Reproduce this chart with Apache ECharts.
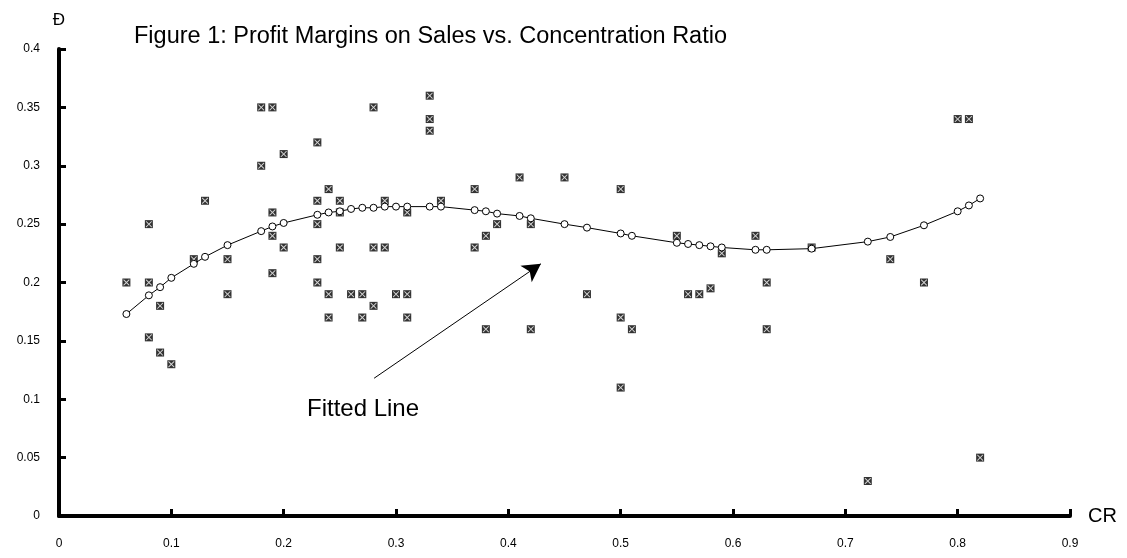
<!DOCTYPE html>
<html>
<head>
<meta charset="utf-8">
<script src="https://cdn.jsdelivr.net/npm/echarts@6/dist/echarts.min.js"></script>
<style>
html,body{margin:0;padding:0;background:#fff;}
#chart{width:1127px;height:558px;}
</style>
</head>
<body>
<div id="chart"></div>
<script>
// ---- data ----
const titleText = 'Figure 1: Profit Margins on Sales vs. Concentration Ratio';
const xTicks = [0, 0.1, 0.2, 0.3, 0.4, 0.5, 0.6, 0.7, 0.8, 0.9];
const yTicks = [0, 0.05, 0.1, 0.15, 0.2, 0.25, 0.3, 0.35, 0.4];

// observed points (CR, profit margin)
const obsX = [0.06,0.08,0.08,0.08,0.09,0.09,0.10,0.12,0.13,0.15,0.15,0.18,0.19,0.18,0.19,0.19,0.19,0.20,0.20,
  0.23,0.23,0.23,0.23,0.23,0.24,0.24,0.24,0.25,0.25,0.25,0.26,0.27,0.27,0.28,0.28,0.28,0.29,0.29,0.30,0.31,0.31,0.31,
  0.33,0.33,0.33,0.34,0.37,0.37,0.38,0.38,0.39,0.41,0.42,0.42,0.45,0.47,0.50,0.50,0.50,0.51,0.55,0.56,0.57,0.58,0.59,
  0.62,0.63,0.63,0.67,0.72,0.74,0.77,0.80,0.81,0.82];
const obsY = [0.20,0.20,0.25,0.153,0.18,0.14,0.13,0.22,0.27,0.22,0.19,0.35,0.35,0.30,0.26,0.24,0.208,0.31,0.23,
  0.32,0.27,0.25,0.22,0.20,0.28,0.19,0.17,0.27,0.26,0.23,0.19,0.19,0.17,0.35,0.23,0.18,0.27,0.23,0.19,0.26,0.19,0.17,
  0.36,0.34,0.33,0.27,0.28,0.23,0.24,0.16,0.25,0.29,0.25,0.16,0.29,0.19,0.28,0.17,0.11,0.16,0.24,0.19,0.19,0.195,0.225,
  0.24,0.20,0.16,0.23,0.03,0.22,0.20,0.34,0.34,0.05];

// fitted line
const fitX = [0.06,0.08,0.09,0.10,0.12,0.13,0.15,0.18,0.19,0.20,0.23,0.24,0.25,0.26,0.27,0.28,0.29,0.30,0.31,0.33,0.34,
  0.37,0.38,0.39,0.41,0.42,0.45,0.47,0.50,0.51,0.55,0.56,0.57,0.58,0.59,0.62,0.63,0.67,0.72,0.74,0.77,0.80,0.81,0.82];
const fitY = [0.173,0.189,0.196,0.204,0.216,0.222,0.232,0.244,0.248,0.251,0.258,0.260,0.261,0.263,0.264,0.264,0.265,0.265,0.265,0.265,0.265,
  0.262,0.261,0.259,0.257,0.255,0.250,0.247,0.242,0.240,0.234,0.233,0.232,0.231,0.230,0.228,0.228,0.229,0.235,0.239,0.249,0.261,0.266,0.272];

// annotation arrow (data coordinates)
const arrowFrom = [0.2805, 0.118];
const arrowTo = [0.429, 0.216];
const annotationText = 'Fitted Line';

// ---- chart ----
const obs = obsX.map((x, i) => [x, obsY[i]]);
const fit = fitX.map((x, i) => [x, fitY[i]]);
const FONT = '"Liberation Sans", Arial, sans-serif';
const xPath = 'path://M0,0 L1.1,0 L5,3.9 L8.9,0 L10,0 L10,1.1 L6.1,5 L10,8.9 L10,10 L8.9,10 L5,6.1 L1.1,10 L0,10 L0,8.9 L3.9,5 L0,1.1 Z';

const chart = echarts.init(document.getElementById('chart'), null, {renderer: 'canvas'});
chart.setOption({
  animation: false,
  backgroundColor: '#fff',
  title: {
    text: titleText,
    left: 129, top: 20,
    textStyle: {fontFamily: FONT, fontSize: 23.5, fontWeight: 'normal', color: '#000'}
  },
  grid: {left: 59, right: 57, top: 49, bottom: 42},
  xAxis: {
    type: 'value', min: 0, max: 0.9, interval: 0.1,
    name: 'CR', nameLocation: 'end', nameGap: 18,
    nameTextStyle: {fontFamily: FONT, fontSize: 20, color: '#000', verticalAlign: 'middle'},
    splitLine: {show: false},
    axisLine: {show: true, onZero: false, lineStyle: {color: '#000', width: 4}},
    axisTick: {show: true, inside: true, length: 7, lineStyle: {color: '#000', width: 3}},
    axisLabel: {margin: 22, fontFamily: FONT, fontSize: 12, color: '#000',
      formatter: v => String(Math.round(v * 10) / 10)}
  },
  yAxis: {
    type: 'value', min: 0, max: 0.4, interval: 0.05,
    name: 'Ð', nameLocation: 'end', nameGap: 20,
    nameTextStyle: {fontFamily: FONT, fontSize: 17, color: '#000', align: 'center'},
    splitLine: {show: false},
    axisLine: {show: true, onZero: false, lineStyle: {color: '#000', width: 4}},
    axisTick: {show: true, inside: true, length: 7, lineStyle: {color: '#000', width: 3}},
    axisLabel: {margin: 19, fontFamily: FONT, fontSize: 12, color: '#000',
      formatter: v => String(Math.round(v * 100) / 100)}
  },
  graphic: [{
    type: 'text', left: 307, top: 397, z: 10,
    style: {text: annotationText, fontFamily: FONT, fontSize: 24, fill: '#000'}
  }],
  series: [
    {
      type: 'scatter', data: obs, symbol: 'rect', symbolSize: 8,
      itemStyle: {color: '#000'}, z: 2, silent: true
    },
    {
      type: 'scatter', data: obs, symbol: xPath, symbolSize: 6,
      itemStyle: {color: '#fff'}, z: 3, silent: true
    },
    {
      type: 'line', data: fit, symbol: 'circle', symbolSize: 7, showSymbol: true,
      lineStyle: {color: '#000', width: 1},
      itemStyle: {color: '#fff', borderColor: '#000', borderWidth: 1},
      z: 4, silent: true,
      markLine: {
        silent: true, symbol: ['none', 'arrow'], symbolSize: [15, 18],
        label: {show: false},
        lineStyle: {color: '#000', width: 1, type: 'solid'},
        data: [[{coord: arrowFrom}, {coord: arrowTo}]]
      }
    }
  ]
});
</script>
</body>
</html>
